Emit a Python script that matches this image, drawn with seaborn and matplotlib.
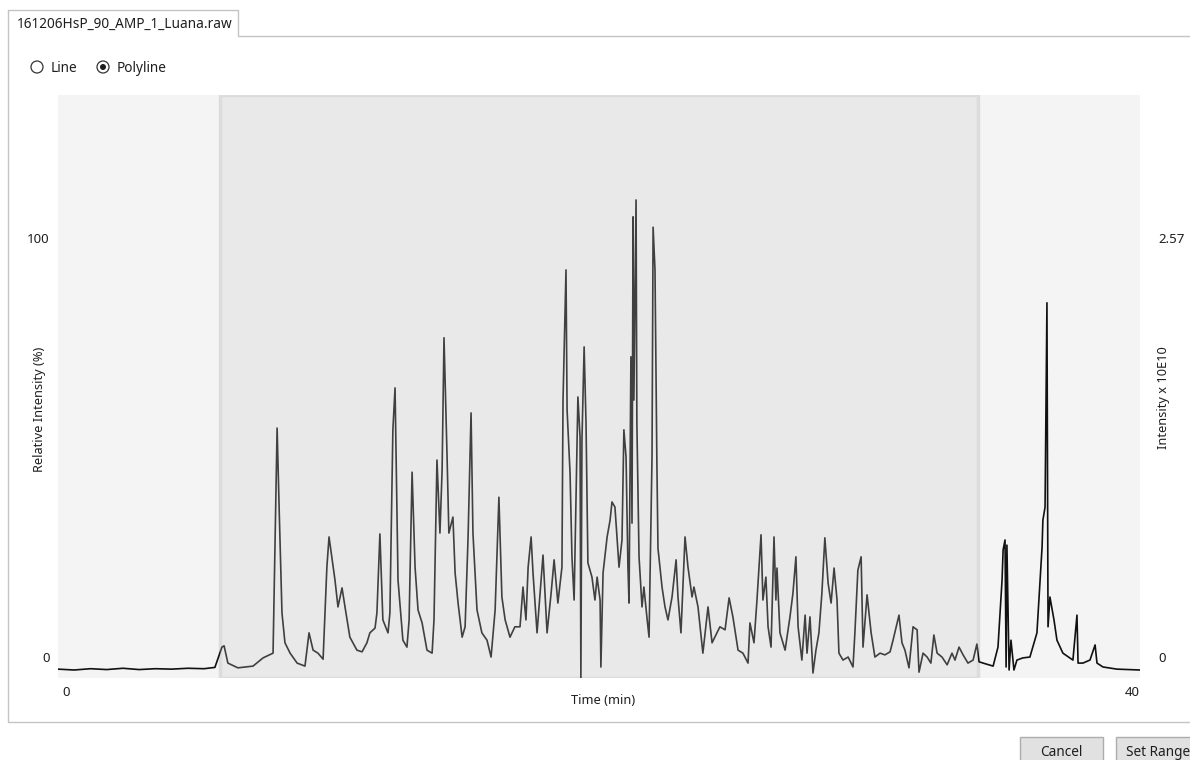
import matplotlib
matplotlib.use("Agg")
import matplotlib.pyplot as plt
from matplotlib.patches import Rectangle, Circle
from matplotlib.transforms import ScaledTranslation
import seaborn as sns
import numpy as np

# ==========================================
# DATA
# ==========================================
file_name = "161206HsP_90_AMP_1_Luana.raw"
x_ticks = [0, 40]
y_ticks_rel = [0, 100]
y_ticks_abs = ["0", "2.57"]
abs_max = 2.57          # intensity x 10E10 at 100 %
sel_start, sel_end = 6.0, 34.0

time_min = [
    0.00, 0.60, 1.20, 1.80, 2.40, 3.00, 3.60, 4.20, 4.80, 5.40, 5.80,
    6.06, 6.14, 6.28, 6.65, 7.21, 7.58, 7.95, 8.10, 8.18, 8.28, 8.39, 8.58, 8.84,
    9.13, 9.28, 9.43, 9.61, 9.80, 9.94, 10.02, 10.24, 10.35, 10.50, 10.61,
    10.79, 11.05, 11.24, 11.42, 11.53, 11.72, 11.79, 11.90, 12.01, 12.20,
    12.27, 12.38, 12.46, 12.57, 12.75, 12.90, 12.98, 13.09, 13.20, 13.31,
    13.46, 13.64, 13.83, 13.90, 14.01, 14.12, 14.20, 14.27, 14.38, 14.45,
    14.60, 14.68, 14.79, 14.94, 15.05, 15.16, 15.27, 15.34, 15.49, 15.67,
    15.86, 16.01, 16.16, 16.30, 16.41, 16.53, 16.71, 16.89, 17.08, 17.19,
    17.30, 17.38, 17.49, 17.56, 17.71, 17.93, 18.08, 18.23, 18.34, 18.48,
    18.63, 18.67, 18.78, 18.82, 18.93, 19.00, 19.08, 19.22, 19.30, 19.33,
    19.37, 19.45, 19.52, 19.59, 19.74, 19.85, 19.93, 20.04, 20.07, 20.15,
    20.30, 20.41, 20.48, 20.59, 20.67, 20.74, 20.85, 20.92, 21.00, 21.07,
    21.11, 21.18, 21.22, 21.26, 21.29, 21.37, 21.40, 21.48, 21.59, 21.66,
    21.77, 21.85, 21.96, 22.00, 22.07, 22.14, 22.18, 22.33, 22.44, 22.55,
    22.70, 22.85, 22.92, 23.03, 23.18, 23.29, 23.44, 23.51, 23.66, 23.84,
    24.03, 24.18, 24.36, 24.47, 24.66, 24.81, 24.95, 25.14, 25.32, 25.51,
    25.58, 25.73, 25.84, 25.99, 26.06, 26.17, 26.25, 26.36, 26.47, 26.54,
    26.58, 26.69, 26.88, 27.06, 27.17, 27.28, 27.36, 27.50, 27.62, 27.69,
    27.80, 27.91, 28.02, 28.13, 28.24, 28.35, 28.47, 28.58, 28.69, 28.80,
    28.87, 29.02, 29.21, 29.39, 29.46, 29.57, 29.69, 29.76, 29.91, 30.06,
    30.20, 30.39, 30.57, 30.76, 30.87, 31.09, 31.20, 31.31, 31.46, 31.61,
    31.76, 31.83, 31.98, 32.13, 32.27, 32.38, 32.50, 32.68, 32.87, 33.05,
    33.16, 33.31, 33.46, 33.64, 33.83, 33.97, 34.05, 34.20, 34.57, 34.75,
    34.90, 34.94, 35.01, 35.05, 35.08, 35.16, 35.23, 35.34, 35.45, 35.67,
    35.93, 36.19, 36.38, 36.41, 36.49, 36.56, 36.60, 36.67, 36.82, 36.93,
    37.15, 37.52, 37.67, 37.71, 37.89, 38.15, 38.34, 38.41, 38.63, 39.15,
    40.00,
]

rel_intensity = [
    0.2, 0.0, 0.3, 0.1, 0.4, 0.1, 0.3, 0.2, 0.4, 0.3, 0.6,
    5.3, 5.6, 1.6, 0.5, 0.9, 2.8, 3.9, 56.0, 36.3, 13.2, 6.3, 3.9, 1.6,
    0.9, 8.6, 4.6, 3.9, 2.5, 23.8, 30.8, 20.8, 14.6, 19.0, 14.6,
    7.6, 4.6, 4.2, 6.3, 8.6, 9.7, 13.2, 31.5, 11.6, 8.6,
    13.2, 55.6, 65.3, 20.8, 6.9, 5.3, 11.6, 45.8, 23.8, 13.9,
    10.9, 4.6, 3.9, 11.6, 48.6, 31.7, 46.3, 76.9, 50.2, 31.7,
    35.4, 22.5, 15.5, 7.6, 10.0, 30.8, 59.5, 31.7, 13.9, 8.6,
    6.9, 3.0, 13.9, 40.0, 16.9, 11.6, 7.6, 10.0, 10.0, 19.2,
    11.6, 23.8, 30.8, 22.5, 8.6, 26.6, 8.6, 17.8, 25.5, 15.5,
    23.8, 62.5, 92.6, 60.2, 45.6, 26.2, 16.2, 63.2, 53.9, -1.9,
    53.2, 74.8, 57.2, 24.8, 21.5, 16.2, 21.5, 16.2, 0.7, 22.5,
    30.8, 34.7, 38.9, 37.7, 30.1, 23.8, 30.1, 55.6, 49.3, 23.8,
    15.5, 72.5, 34.0, 104.9, 62.5, 108.8, 57.2, 26.2, 14.6, 19.2,
    12.3, 7.6, 49.3, 102.5, 92.6, 47.9, 28.2, 19.2, 14.6, 11.6,
    16.9, 25.5, 16.9, 8.6, 30.8, 23.8, 16.9, 19.2, 14.6, 3.9,
    14.6, 6.3, 8.6, 10.0, 9.3, 16.7, 12.3, 4.6, 3.9, 1.6,
    10.9, 6.3, 16.2, 31.3, 16.2, 21.5, 10.0, 5.3, 30.8, 16.2,
    23.6, 8.6, 4.6, 12.3, 17.8, 26.2, 10.0, 2.3, 12.7, 3.9,
    12.3, -0.7, 4.6, 8.6, 17.8, 30.6, 20.1, 15.5, 23.6, 16.2,
    3.9, 2.3, 3.0, 0.7, 8.6, 23.1, 26.2, 5.3, 17.4, 8.6,
    3.0, 3.9, 3.5, 4.2, 6.9, 12.7, 6.3, 4.6, 0.5, 10.0,
    9.3, -0.5, 3.9, 3.0, 1.6, 8.1, 3.9, 3.0, 1.2, 3.9,
    2.3, 5.3, 3.5, 1.6, 2.3, 6.0, 1.9, 1.6, 0.9, 5.3,
    20.8, 27.8, 30.1, 0.7, 28.9, 0.0, 6.9, 0.0, 2.3, 2.8,
    3.0, 8.6, 28.5, 34.7, 37.7, 85.0, 10.0, 16.9, 11.6, 6.9,
    3.9, 2.3, 12.7, 1.6, 1.6, 2.3, 5.8, 1.6, 0.7, 0.2,
    0.0,
]

# ==========================================
# FIGURE / UI FRAME (pixel coordinates)
# ==========================================
sns.set_theme(style="white")
plt.rcParams['font.family'] = ['Noto Sans', 'DejaVu Sans']
txt_color = "#1e1e1e"

W, H = 1190, 760
fig = plt.figure(figsize=(W / 100, H / 100), dpi=100, facecolor="white")

ui = fig.add_axes([0, 0, 1, 1])
ui.set_xlim(0, W)
ui.set_ylim(H, 0)
ui.axis("off")

# tab + panel frame
frame_col = "#c4c4c4"
ui.plot([8, 8, 1189], [10, 722, 722], color=frame_col, lw=1.0)
ui.plot([8, 238, 238, W], [10, 10, 36, 36], color=frame_col, lw=1.0)
ui.text(17, 24, file_name, fontsize=9.8, color=txt_color, va="center", ha="left")

# radio buttons
ui.add_patch(Circle((37, 67), 6, facecolor="white", edgecolor="#333333", lw=0.9))
ui.text(51, 68, "Line", fontsize=9.8, color=txt_color, va="center")
ui.add_patch(Circle((103, 67), 6, facecolor="white", edgecolor="#333333", lw=0.9))
ui.add_patch(Circle((103, 67), 3, facecolor="#1e1e1e", edgecolor="none"))
ui.text(117, 68, "Polyline", fontsize=9.8, color=txt_color, va="center")

# buttons
for bx, bw, label in [(1020, 83, "Cancel"), (1116, 90, "Set Range")]:
    ui.add_patch(Rectangle((bx, 737), bw, 30, facecolor="#e1e1e1", edgecolor="#adadad", lw=1.0))
    ui.text(bx + bw / 2 if label == "Cancel" else bx + 10, 752, label,
            fontsize=9.8, color=txt_color, va="center",
            ha="center" if label == "Cancel" else "left")

# ==========================================
# CHROMATOGRAM
# ==========================================
ax_l, ax_r, ax_t, ax_b = 58, 1140, 95, 678
ax = fig.add_axes([ax_l / W, 1 - ax_b / H, (ax_r - ax_l) / W, (ax_b - ax_t) / H])
ax.set_facecolor("#f4f4f4")
for s in ax.spines.values():
    s.set_visible(False)

px_per_pct = 4.32
y_lo = -(ax_b - 670) / px_per_pct
y_hi = (670 - ax_t) / px_per_pct
ax.set_xlim(0, 40)
ax.set_ylim(y_lo, y_hi)

ax.axvspan(sel_start, sel_end, facecolor="#e9e9e9", edgecolor="#dcdcdc", lw=2.5, zorder=0)

# same trace three times, each clipped to its zone (black outside, grey inside the range)
segments = [(0, sel_start, "#111111"), (sel_start, sel_end, "#404040"), (sel_end, 40, "#111111")]
for lo, hi, col in segments:
    sns.lineplot(x=time_min, y=rel_intensity, ax=ax, sort=False, estimator=None,
                 color=col, lw=1.2, zorder=3)
    clip = Rectangle((lo, y_lo), hi - lo, y_hi - y_lo, transform=ax.transData)
    ax.lines[-1].set_clip_path(clip)

# ticks / labels
ax.tick_params(length=0, labelsize=9.5, labelcolor=txt_color, pad=6)
ax.set_xticks(x_ticks)
ax.set_xticklabels([str(v) for v in x_ticks])
xt = ax.get_xticklabels()
xt[0].set_ha("left")
xt[0].set_transform(xt[0].get_transform() + ScaledTranslation(4 / 100, 0, fig.dpi_scale_trans))
xt[1].set_ha("right")

ax.set_yticks(y_ticks_rel)
ax.set_yticklabels([str(v) for v in y_ticks_rel])
yt = ax.get_yticklabels()
yt[0].set_transform(yt[0].get_transform() + ScaledTranslation(0, 13 / 100, fig.dpi_scale_trans))

ax.set_xlabel("Time (min)", fontsize=9.2, color=txt_color)
ax.xaxis.set_label_coords((603 - ax_l) / (ax_r - ax_l), (ax_b - 700) / (ax_b - ax_t))
ax.xaxis.label.set_va("center")
ax.set_ylabel("Relative Intensity (%)", fontsize=9.2, color=txt_color)
ax.yaxis.set_label_coords((40 - ax_l) / (ax_r - ax_l), (ax_b - 409) / (ax_b - ax_t))
ax.yaxis.label.set_va("center")

# right axis: absolute intensity
ax2 = ax.twinx()
ax2.set_ylim(y_lo * abs_max / 100, y_hi * abs_max / 100)
for s in ax2.spines.values():
    s.set_visible(False)
ax2.tick_params(length=0, labelsize=9.5, labelcolor=txt_color, pad=13)
ax2.set_yticks([0, abs_max])
ax2.set_yticklabels(y_ticks_abs)
yt2 = ax2.get_yticklabels()
yt2[0].set_transform(yt2[0].get_transform() + ScaledTranslation(0, 13 / 100, fig.dpi_scale_trans))
ax2.set_ylabel("Intensity x 10E10", fontsize=9.2, color=txt_color, rotation=90)
ax2.yaxis.set_label_coords((1163 - ax_l) / (ax_r - ax_l), (ax_b - 398) / (ax_b - ax_t))
ax2.yaxis.label.set_va("center")

fig.savefig("out.png", dpi=100, facecolor="white")
